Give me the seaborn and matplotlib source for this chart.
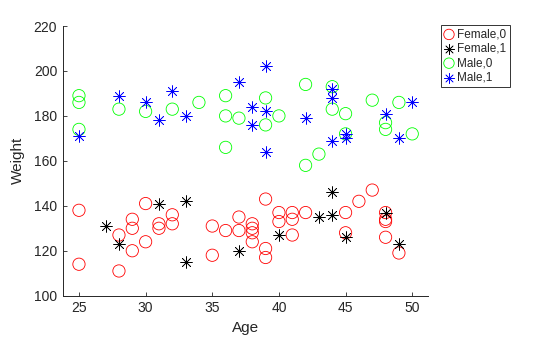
import matplotlib
matplotlib.use("Agg")
import matplotlib.pyplot as plt
import seaborn as sns
import pandas as pd

# Female, non-smoker
f0_age = [25, 25, 28, 28, 29, 29, 29, 30, 30, 31, 31, 32, 32, 35, 35, 36, 37, 37,
          38, 38, 38, 38, 39, 39, 39, 40, 40, 41, 41, 41, 42, 45, 45, 46, 47, 48,
          48, 48, 48, 49]
f0_wt = [138, 114, 127, 111, 134, 130, 120, 141, 124, 132, 130, 136, 132, 131, 118,
         129, 135, 129, 132, 130, 128, 124, 143, 121, 117, 137, 133, 137, 134, 127,
         137, 137, 128, 142, 147, 137, 134, 133, 126, 119]
# Female, smoker
f1_age = [27, 28, 31, 33, 33, 37, 40, 43, 44, 44, 45, 48, 49]
f1_wt = [131, 123, 141, 142, 115, 120, 127, 135, 146, 136, 126, 137, 123]
# Male, non-smoker
m0_age = [25, 25, 25, 28, 30, 32, 34, 36, 36, 36, 37, 39, 39, 40, 42, 42, 43, 44,
          44, 45, 45, 47, 48, 48, 49, 50]
m0_wt = [189, 186, 174, 183, 182, 183, 186, 189, 180, 166, 179, 188, 176, 180, 194,
         158, 163, 193, 183, 181, 172, 187, 177, 174, 186, 172]
# Male, smoker
m1_age = [25, 28, 30, 31, 32, 33, 37, 38, 38, 39, 39, 39, 42, 44, 44, 44, 45, 45,
          48, 49, 50]
m1_wt = [171, 189, 186, 178, 191, 180, 195, 184, 176, 202, 182, 164, 179, 192, 188,
         169, 172, 170, 181, 170, 186]

groups = ["Female,0", "Female,1", "Male,0", "Male,1"]
x_ticks = [25, 30, 35, 40, 45, 50]
y_ticks = [100, 120, 140, 160, 180, 200, 220]

sns.set_style("white")
plt.rcParams['font.family'] = ['Liberation Sans', 'DejaVu Sans']

fig = plt.figure(figsize=(5.6, 3.37), dpi=100)
ax = fig.add_axes([62.7 / 560, 1 - 295.7 / 337, (427.7 - 62.7) / 560, (295.7 - 26) / 337])

colors = {"Female,0": (1, 0, 0), "Female,1": (0, 0, 0),
          "Male,0": (0, 1, 0), "Male,1": (0, 0, 1)}
data = {"Female,0": (f0_age, f0_wt), "Female,1": (f1_age, f1_wt),
        "Male,0": (m0_age, m0_wt), "Male,1": (m1_age, m1_wt)}

for g in groups:
    a, w = data[g]
    df = pd.DataFrame({"Age": a, "Weight": w})
    c = colors[g]
    if g.endswith("0"):
        sns.scatterplot(data=df, x="Age", y="Weight", ax=ax, marker="o", s=78,
                        facecolors="none", edgecolor=c, linewidth=0.6, label=g,
                        legend=False)
    else:
        sns.scatterplot(data=df, x="Age", y="Weight", ax=ax, marker=(8, 2, 0), s=70,
                        color=c, edgecolor=c, linewidth=0.5, label=g, legend=False)

ax.set_xlim(23.78, 51.16)
ax.set_ylim(100, 220)
ax.set_xticks(x_ticks)
ax.set_yticks(y_ticks)
dark = (0.15, 0.15, 0.15)
ax.tick_params(direction="in", length=3, width=0.6, colors=dark, labelsize=10,
               bottom=True, left=True, labelcolor=dark, pad=4)
for s in ["top", "right"]:
    ax.spines[s].set_visible(False)
for s in ["left", "bottom"]:
    ax.spines[s].set_color(dark)
    ax.spines[s].set_linewidth(0.7)
ax.set_xlabel("Age", fontsize=11, color=dark, labelpad=4)
ax.set_ylabel("Weight", fontsize=11, color=dark, labelpad=6)

handles, labels = ax.get_legend_handles_labels()
leg = ax.legend(handles, labels, loc="upper left",
                bbox_to_anchor=(440.7 / 560, 1 - 25 / 337), bbox_transform=fig.transFigure,
                frameon=True, fancybox=False, fontsize=8.5, handlelength=0.8,
                handletextpad=0.3, labelspacing=0.2, borderpad=0.3, borderaxespad=0,
                markerscale=0.85)
leg.get_frame().set_edgecolor("black")
leg.get_frame().set_linewidth(0.7)

fig.savefig("out.png", dpi=100)
